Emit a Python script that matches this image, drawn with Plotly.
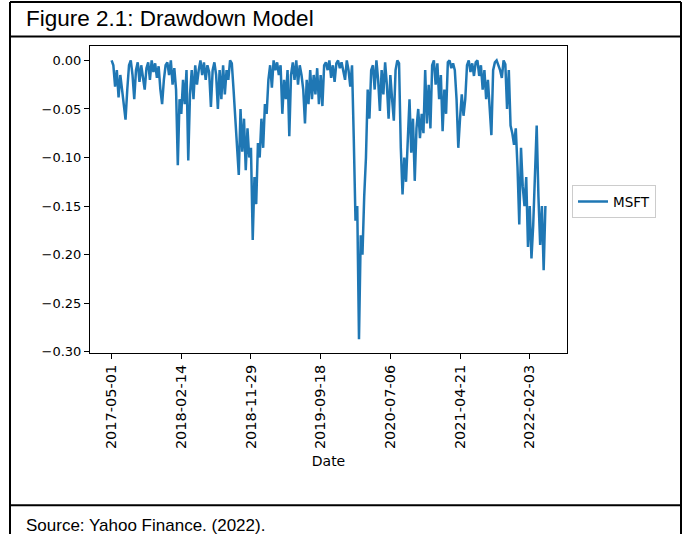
import plotly.graph_objects as go

# ---------------- data ----------------
# MSFT drawdown, sampled roughly every 5 trading days from 2017-05-01
drawdown = [
    0.000, -0.005, -0.027, -0.010, -0.038, -0.015, -0.030, -0.045, -0.061, -0.030,
    -0.005, 0.000, -0.015, -0.040, -0.010, -0.002, -0.022, -0.005, -0.018, -0.030,
    -0.008, -0.002, -0.020, 0.000, -0.012, -0.003, -0.018, -0.006, -0.030, -0.045,
    -0.020, -0.005, -0.002, -0.015, 0.000, -0.025, -0.008, -0.030, -0.108, -0.040,
    -0.055, -0.020, -0.045, -0.010, -0.103, -0.035, -0.010, -0.040, -0.005, -0.025,
    -0.010, 0.000, -0.015, -0.002, -0.020, -0.005, -0.012, -0.048, -0.010, -0.002,
    -0.015, -0.050, -0.010, -0.040, -0.005, -0.035, -0.010, -0.020, 0.000, -0.003,
    -0.030, -0.060, -0.087, -0.118, -0.050, -0.094, -0.060, -0.113, -0.070, -0.100,
    -0.090, -0.185, -0.120, -0.148, -0.085, -0.100, -0.060, -0.090, -0.045, -0.055,
    -0.020, -0.005, -0.028, 0.000, -0.010, -0.002, -0.015, -0.005, -0.055, -0.020,
    -0.040, -0.010, -0.078, -0.015, -0.002, -0.020, 0.000, -0.025, -0.005, -0.015,
    -0.030, -0.065, -0.020, -0.045, -0.010, -0.040, -0.015, -0.035, -0.008, -0.045,
    -0.015, -0.047, -0.005, -0.002, -0.010, 0.000, -0.018, -0.005, -0.022, -0.003,
    0.000, -0.008, -0.002, -0.012, -0.020, 0.000, -0.010, -0.027, -0.005, -0.080,
    -0.165, -0.150, -0.287, -0.180, -0.200, -0.140, -0.100, -0.030, -0.060, -0.010,
    -0.005, -0.030, 0.000, -0.020, -0.052, -0.010, -0.035, -0.002, -0.025, -0.060,
    -0.015, -0.040, -0.062, -0.010, 0.000, -0.003, -0.090, -0.138, -0.100, -0.125,
    -0.075, -0.040, -0.095, -0.060, -0.124, -0.070, -0.050, -0.080, -0.055, -0.075,
    -0.010, -0.065, -0.025, -0.070, -0.005, 0.000, -0.025, -0.003, -0.040, -0.015,
    -0.073, -0.030, -0.055, -0.002, 0.000, -0.008, -0.003, -0.010, -0.040, -0.090,
    -0.060, -0.035, -0.057, -0.040, -0.005, 0.000, -0.012, -0.003, -0.016, -0.002,
    0.000, -0.016, -0.005, -0.030, -0.010, -0.040, -0.020, -0.050, -0.077, -0.010,
    -0.002, 0.000, -0.005, -0.010, -0.018, 0.000, -0.004, -0.050, -0.010, -0.067,
    -0.075, -0.087, -0.070, -0.110, -0.169, -0.090, -0.130, -0.150, -0.120, -0.192,
    -0.150, -0.204, -0.170, -0.120, -0.067, -0.140, -0.190, -0.150, -0.216, -0.150,
]
trading_day = [i * 5 for i in range(len(drawdown))]

tick_positions = [0, 200, 400, 600, 800, 1000, 1200]
tick_labels = ["2017-05-01", "2018-02-14", "2018-11-29", "2019-09-18",
               "2020-07-06", "2021-04-21", "2022-02-03"]
y_ticks = [0.00, -0.05, -0.10, -0.15, -0.20, -0.25, -0.30]
y_tick_labels = ["0.00", "\u22120.05", "\u22120.10", "\u22120.15",
                 "\u22120.20", "\u22120.25", "\u22120.30"]

series_name = "MSFT"
title_text = "Figure 2.1: Drawdown Model"
source_text = "Source: Yahoo Finance. (2022)."

# ---------------- layout helpers ----------------
W, H = 689, 540


def X(px):
    return px / W


def Y(py):
    return 1 - py / H


fig = go.Figure()
fig.add_trace(go.Scatter(
    x=trading_day, y=drawdown, mode="lines", name=series_name,
    line=dict(color="#1f77b4", width=2.5),
))

ytick_font = dict(family="DejaVu Sans", size=13, color="#000000")
xtick_font = dict(family="DejaVu Sans", size=14.5, color="#000000")

fig.update_layout(
    width=W, height=H,
    margin=dict(l=0, r=0, t=0, b=0),
    paper_bgcolor="white", plot_bgcolor="white",
    showlegend=True,
    legend=dict(
        x=X(572), y=Y(204), xanchor="left", yanchor="middle",
        bgcolor="white", bordercolor="#cccccc", borderwidth=1,
        font=dict(family="DejaVu Sans", size=13.5, color="#000000"),
    ),
    xaxis=dict(
        domain=[X(90), X(567)],
        range=[-62, 1307],
        tickmode="array", tickvals=tick_positions, ticktext=tick_labels,
        tickangle=-90, ticks="outside", ticklen=5, tickwidth=1, tickcolor="black",
        showline=True, linecolor="black", linewidth=1, mirror=True,
        showgrid=False, zeroline=False,
        tickfont=xtick_font,
        title=dict(text="Date", font=dict(family="DejaVu Sans", size=14, color="#000000"),
                   standoff=8),
    ),
    yaxis=dict(
        domain=[Y(357), Y(47)],
        range=[-0.3013, 0.01435],
        tickmode="array", tickvals=y_ticks, ticktext=y_tick_labels,
        ticks="outside", ticklen=5, tickwidth=1, tickcolor="black",
        showline=True, linecolor="black", linewidth=1, mirror=True,
        showgrid=False, zeroline=False,
        tickfont=ytick_font,
    ),
)

border = dict(color="black", width=2)
shapes = [
    dict(type="line", xref="paper", yref="paper", x0=X(10), x1=X(681), y0=Y(2), y1=Y(2), line=border),
    dict(type="line", xref="paper", yref="paper", x0=X(10), x1=X(681), y0=Y(37), y1=Y(37), line=border),
    dict(type="line", xref="paper", yref="paper", x0=X(10), x1=X(681), y0=Y(511), y1=Y(511), line=border),
    dict(type="line", xref="paper", yref="paper", x0=X(10), x1=X(10), y0=Y(2), y1=Y(540), line=border),
    dict(type="line", xref="paper", yref="paper", x0=X(681), x1=X(681), y0=Y(2), y1=Y(540), line=border),
]
fig.update_layout(shapes=shapes)

fig.add_annotation(
    text=title_text, xref="paper", yref="paper", x=X(24), y=Y(19),
    xanchor="left", yanchor="middle", showarrow=False,
    font=dict(family="Liberation Sans, Arial", size=22.5, color="black"),
)
fig.add_annotation(
    text=source_text, xref="paper", yref="paper", x=X(24), y=Y(531),
    xanchor="left", yanchor="middle", showarrow=False,
    font=dict(family="Liberation Sans, Arial", size=17, color="black"),
)

fig.write_html(
    "out.html",
    config={"displayModeBar": False},
    post_script="document.body.style.margin='0';document.body.style.overflow='hidden';",
)
